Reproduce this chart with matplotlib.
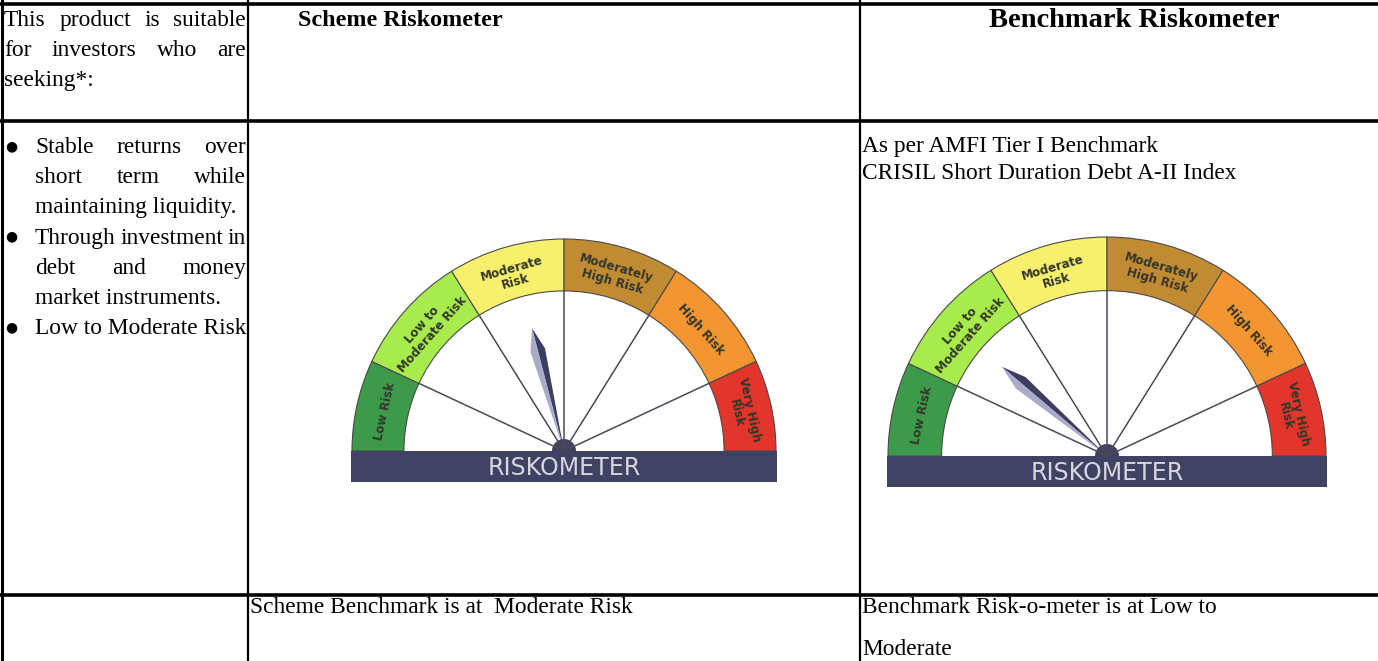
import matplotlib.pyplot as plt
import numpy as np
from matplotlib.patches import Wedge, Rectangle, Circle, Polygon

# ----------------------------------------------------
# Chart data
# ----------------------------------------------------

risk_levels = [
    "Low Risk",
    "Low to\nModerate Risk",
    "Moderate\nRisk",
    "Moderately\nHigh Risk",
    "High Risk",
    "Very High\nRisk",
]
# segment edges, degrees measured from the left end of the dial
risk_edges = [0, 25, 58, 90, 122, 155, 180]
risk_colors = ["#3d9a4a", "#a8eb4d", "#f6f06c", "#c08b32", "#f39530", "#e2352b"]

meter_titles = ["Scheme Riskometer", "Benchmark Riskometer"]
# needle position, degrees from the left end of the dial
needle_angles = [75.4, 40.3]

suitable_header = ["This product is suitable", "for investors who are", "seeking*:"]
bullet_lines = [
    ("Stable returns over", True, True),
    ("short term while", False, True),
    ("maintaining liquidity.", False, False),
    ("Through investment in", True, True),
    ("debt and money", False, True),
    ("market instruments.", False, False),
    ("Low to Moderate Risk", True, False),
]
benchmark_note = ["As per AMFI Tier I Benchmark", "CRISIL Short Duration Debt A-II Index"]
scheme_footer = "Scheme Benchmark is at  Moderate Risk"
bench_footer = ["Benchmark Risk-o-meter is at Low to", "Moderate"]

# ----------------------------------------------------
# Figure in pixel coordinates
# ----------------------------------------------------

W, H = 1378, 661
fig = plt.figure(figsize=(W / 100, H / 100), dpi=100)
ax = fig.add_axes([0, 0, 1, 1])
ax.set_xlim(0, W)
ax.set_ylim(H, 0)
ax.axis("off")
renderer = fig.canvas.get_renderer()

serif = "Liberation Serif"
fs = 16.8

# -----------------------
# Table grid
# -----------------------

col_x = [2, 248, 860]
row_y = [4, 121, 595]
for y in row_y:
    ax.plot([0, W], [y, y], color="black", lw=2.6, solid_capstyle="butt")
ax.plot([col_x[0], col_x[0]], [0, H], color="black", lw=2.2)
for x in col_x[1:]:
    ax.plot([x, x], [0, H], color="black", lw=1.6)


def justify(words_line, x0, x1, y, justified):
    words = words_line.split()
    if not justified or len(words) == 1:
        ax.text(x0, y, words_line, fontsize=fs, family=serif, va="baseline", ha="left")
        return
    widths = []
    texts = []
    for w in words:
        t = ax.text(0, y, w, fontsize=fs, family=serif, va="baseline", ha="left")
        widths.append(t.get_window_extent(renderer).width)
        texts.append(t)
    gap = (x1 - x0 - sum(widths)) / (len(words) - 1)
    x = x0
    for t, w in zip(texts, widths):
        t.set_x(x)
        x += w + gap


# header column 1
for i, line in enumerate(suitable_header):
    justify(line, 4, 246, 26 + 30 * i, i < len(suitable_header) - 1)

# header columns 2 and 3
ax.text(298, 26, meter_titles[0], fontsize=17.4, family=serif, weight="bold", va="baseline")
ax.text(1134, 27, meter_titles[1], fontsize=20.5, family=serif, weight="bold",
        va="baseline", ha="center")

# bullet list
for i, (line, bullet, just) in enumerate(bullet_lines):
    y = 153 + 30.2 * i
    if bullet:
        ax.text(5, y - 7, "\u25cf", fontsize=10, family="DejaVu Sans", va="center")
    justify(line, 35, 246, y, just)

for i, line in enumerate(benchmark_note):
    ax.text(862, 152 + 27 * i, line, fontsize=fs, family=serif, va="baseline")

ax.text(250, 613, scheme_footer, fontsize=fs, family=serif, va="baseline")
for i, line in enumerate(bench_footer):
    ax.text(862, 613 + 42 * i, line, fontsize=fs, family=serif, va="baseline")

# -----------------------
# Riskometer dials
# -----------------------


def riskometer(cx, cy, r, needle_deg, needle_len):
    r_in = r * 0.755
    for k in range(len(risk_levels)):
        a0 = 180 - risk_edges[k + 1]
        a1 = 180 - risk_edges[k]
        # y axis is flipped, so mirror the wedge angles
        ax.add_patch(Wedge((cx, cy), r, -a1, -a0, width=r - r_in,
                           facecolor=risk_colors[k], edgecolor="#4a4a4a", lw=0.8))
        mid = np.radians((a0 + a1) / 2)
        rm = (r + r_in) / 2 - 3
        ax.text(cx + rm * np.cos(mid), cy - rm * np.sin(mid), risk_levels[k],
                rotation=np.degrees(mid) - 90, rotation_mode="anchor",
                ha="center", va="center", fontsize=8.6, weight="bold",
                color="#34372a", linespacing=1.05, family="DejaVu Sans")
    for e in risk_edges[1:-1]:
        a = np.radians(180 - e)
        ax.plot([cx, cx + r_in * np.cos(a)], [cy, cy - r_in * np.sin(a)],
                color="#4a4a55", lw=1.1)

    # needle: light and dark halves of a kite
    a = np.radians(180 - needle_deg)
    d = np.array([np.cos(a), -np.sin(a)])
    n = np.array([-d[1], d[0]])
    c = np.array([cx, cy])
    tip = c + d * needle_len
    mid = c + d * needle_len * 0.82
    ax.add_patch(Polygon([c, mid + n * 7.5, tip], closed=True, facecolor="#3b3e60", lw=0))
    ax.add_patch(Polygon([c, mid - n * 7.5, tip], closed=True, facecolor="#a9abc8", lw=0))

    ax.add_patch(Rectangle((cx - r - 1, cy), 2 * r + 2, 31, facecolor="#3f4263", lw=0))
    ax.add_patch(Circle((cx, cy), 12, facecolor="#3f4263", lw=0))
    ax.text(cx, cy + 17, "RISKOMETER", fontsize=17, color="#d6d6e0",
            ha="center", va="center", family="DejaVu Sans")


riskometer(564, 451, 212, needle_angles[0], 127)
riskometer(1107, 456, 219, needle_angles[1], 138)

fig.savefig("out.png", dpi=100)
